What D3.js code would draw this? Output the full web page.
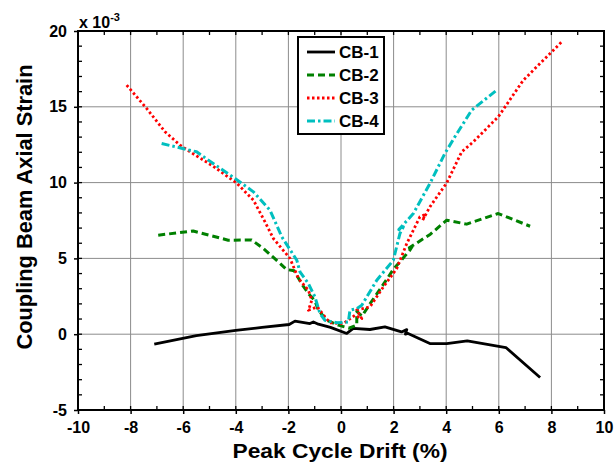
<!DOCTYPE html>
<html>
<head>
<meta charset="utf-8">
<script src="https://cdn.jsdelivr.net/npm/d3@7"></script>
<style>
  body { margin: 0; background: #fff; }
  text { font-family: "Liberation Sans", Arial, sans-serif; font-weight: bold; }
</style>
</head>
<body>
<svg id="chart" width="616" height="469"></svg>
<script>
// drift (%) and axial strain (x 10^-3)
var cb1Drift  = [-7.1, -5.5, -4, -3, -1.97, -1.75, -1.18, -1.05, -0.86, -0.4, 0.22, 0.47, 1.1, 1.67, 2.3, 2.5, 2.45, 2.55, 3.38, 4.02, 4.8, 6.27, 7.57];
var cb1Strain = [-0.66, -0.1, 0.25, 0.45, 0.64, 0.86, 0.7, 0.81, 0.66, 0.45, 0.05, 0.38, 0.31, 0.48, 0.15, 0.3, 0.0, 0.05, -0.62, -0.62, -0.44, -0.88, -2.86];

var cb2Drift  = [-6.95, -5.62, -4.29, -3.4, -2.95, -2.38, -2.07, -1.78, -1.45, -1.2, -0.99, -0.86, -0.54, -0.1, 0.3, 0.6, 0.6, 0.8, 1.1, 1.5, 2.0, 2.6, 2.75, 2.6, 3.4, 4.02, 4.78, 5.98, 7.19];
var cb2Strain = [6.53, 6.81, 6.2, 6.22, 5.65, 4.77, 4.27, 4.18, 3.2, 2.6, 2.2, 1.58, 0.92, 0.6, 0.4, 0.6, 1.5, 1.2, 2.0, 3.0, 4.3, 5.5, 5.9, 5.7, 6.6, 7.52, 7.26, 7.96, 7.12];

var cb3Drift  = [-8.15, -7.39, -6.69, -6.12, -5.74, -4.86, -3.97, -3.33, -2.89, -2.57, -1.94, -1.62, -1.24, -1.11, -1.24, -0.9, -0.61, -0.42, 0.09, 0.53, 0.79, 0.6, 1.1, 1.61, 2.12, 2.5, 3.0, 3.2, 3.1, 3.38, 4.02, 4.59, 5.03, 5.98, 6.93, 8.39];
var cb3Strain = [16.43, 14.89, 13.35, 12.47, 12.03, 11.08, 9.97, 8.84, 7.41, 6.31, 5.0, 3.68, 2.9, 2.24, 1.58, 1.8, 1.14, 0.75, 0.7, 1.25, 1.03, 1.6, 1.8, 3.12, 4.33, 5.98, 7.74, 7.9, 7.5, 8.4, 9.98, 12.03, 12.69, 14.34, 16.75, 19.28];

var cb4Drift  = [-6.82, -5.49, -4.86, -4.03, -3.33, -2.7, -2.25, -1.68, -1.56, -1.24, -0.99, -0.8, -0.61, -0.16, 0.28, 0.34, 0.6, 0.79, 1.36, 1.99, 2.24, 2.37, 2.2, 2.75, 3.38, 3.95, 4.33, 4.97, 5.92];
var cb4Strain = [12.58, 12.03, 11.26, 10.27, 9.39, 8.18, 6.42, 4.88, 4.11, 3.34, 2.46, 1.36, 0.92, 0.75, 0.81, 1.58, 1.69, 1.91, 3.56, 4.88, 6.64, 7.08, 6.9, 7.96, 9.94, 11.92, 13.02, 14.78, 16.1];

var seriesNames = ['CB-1', 'CB-2', 'CB-3', 'CB-4'];
var xTicks = [-10, -8, -6, -4, -2, 0, 2, 4, 6, 8, 10];
var yTicks = [-5, 0, 5, 10, 15, 20];

var styles = [
  { color: '#000000', dash: null, w: 2.8 },
  { color: '#008000', dash: '7,4', w: 3 },
  { color: '#ff0000', dash: '2.5,2.5', w: 2.8 },
  { color: '#00bfbf', dash: '8,3,2.5,3', w: 3 }
];

var series = [
  d3.zip(cb1Drift, cb1Strain),
  d3.zip(cb2Drift, cb2Strain),
  d3.zip(cb3Drift, cb3Strain),
  d3.zip(cb4Drift, cb4Strain)
];

var svg = d3.select('#chart');
var plotL = 78, plotR = 604, plotT = 31, plotB = 410;

var x = d3.scaleLinear().domain([-10, 10]).range([plotL, plotR]);
var y = d3.scaleLinear().domain([-5, 20]).range([plotB, plotT]);
var fmt = d => String(d);

// grid
var grid = svg.append('g').attr('stroke', '#8c8c8c').attr('stroke-width', 1);
grid.selectAll('.gx').data(xTicks.slice(1, -1)).enter().append('line')
    .attr('x1', d => x(d)).attr('x2', d => x(d)).attr('y1', plotT).attr('y2', plotB);
grid.selectAll('.gy').data(yTicks.slice(1, -1)).enter().append('line')
    .attr('x1', plotL).attr('x2', plotR).attr('y1', d => y(d)).attr('y2', d => y(d));

// axes
var minorX = d3.range(-10, 10.5, 1);
var minorY = d3.range(-5, 20.5, 1);

var xAxis = svg.append('g').attr('transform', `translate(0,${plotB})`)
    .call(d3.axisBottom(x).tickValues(xTicks).tickSize(4).tickPadding(8).tickFormat(fmt));
var yAxis = svg.append('g').attr('transform', `translate(${plotL},0)`)
    .call(d3.axisLeft(y).tickValues(yTicks).tickSize(4).tickPadding(7).tickFormat(fmt));
[xAxis, yAxis].forEach(function(a) {
  a.select('.domain').remove();
  a.selectAll('.tick line').attr('stroke', '#000').attr('stroke-width', 1.5);
  a.selectAll('.tick text').attr('font-size', 16).attr('fill', '#000')
      .style('font-family', '"Liberation Sans", Arial, sans-serif').style('font-weight', 'bold');
});

var ticks = svg.append('g').attr('stroke', '#000').attr('stroke-width', 1.3);
minorX.forEach(function(d) {
  ticks.append('line').attr('x1', x(d)).attr('x2', x(d)).attr('y1', plotB).attr('y2', plotB - 4);
  ticks.append('line').attr('x1', x(d)).attr('x2', x(d)).attr('y1', plotT).attr('y2', plotT + 4);
});
minorY.forEach(function(d) {
  ticks.append('line').attr('x1', plotL).attr('x2', plotL + 4).attr('y1', y(d)).attr('y2', y(d));
  ticks.append('line').attr('x1', plotR).attr('x2', plotR - 4).attr('y1', y(d)).attr('y2', y(d));
});

// data lines
var line = d3.line().x(d => x(d[0])).y(d => y(d[1]));
series.forEach(function(s, i) {
  svg.append('path').datum(s)
      .attr('d', line)
      .attr('fill', 'none')
      .attr('stroke', styles[i].color)
      .attr('stroke-width', styles[i].w)
      .attr('stroke-dasharray', styles[i].dash)
      .attr('stroke-linejoin', 'round');
});

// frame
svg.append('rect').attr('x', plotL).attr('y', plotT).attr('width', plotR - plotL).attr('height', plotB - plotT)
    .attr('fill', 'none').attr('stroke', '#000').attr('stroke-width', 2);

// legend
var lg = svg.append('g');
lg.append('rect').attr('x', 298).attr('y', 37).attr('width', 86).attr('height', 97)
    .attr('fill', '#fff').attr('stroke', '#000').attr('stroke-width', 2);
seriesNames.forEach(function(name, i) {
  var ry = 52 + i * 23;
  lg.append('line').attr('x1', 307).attr('x2', 335).attr('y1', ry).attr('y2', ry)
      .attr('stroke', styles[i].color).attr('stroke-width', styles[i].w)
      .attr('stroke-dasharray', styles[i].dash);
  lg.append('text').attr('x', 339).attr('y', ry + 6).attr('font-size', 17).text(name);
});

// exponent label
var ex = svg.append('text').attr('x', 79).attr('y', 28).attr('font-size', 16);
ex.append('tspan').text('x 10');
ex.append('tspan').attr('font-size', 11).attr('dy', -7).text('-3');

// axis titles
svg.append('text').attr('x', 340).attr('y', 458).attr('text-anchor', 'middle')
    .attr('font-size', 21).attr('textLength', 215).attr('lengthAdjust', 'spacingAndGlyphs')
    .text('Peak Cycle Drift (%)');
svg.append('text').attr('transform', 'translate(32,207) rotate(-90)').attr('text-anchor', 'middle')
    .attr('font-size', 22).attr('textLength', 285).attr('lengthAdjust', 'spacingAndGlyphs')
    .text('Coupling Beam Axial Strain');
</script>
</body>
</html>
